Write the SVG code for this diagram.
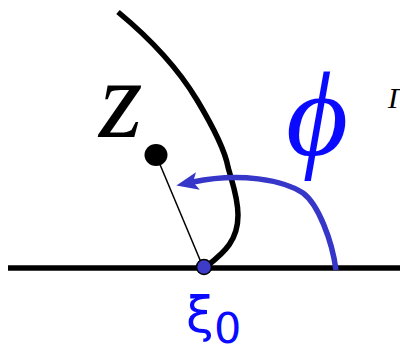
<svg xmlns="http://www.w3.org/2000/svg" width="400" height="347" viewBox="0 0 400 347">
<style>
.blk{fill:none;stroke:#000;stroke-width:5.5;stroke-linecap:butt}
.thin{fill:none;stroke:#000;stroke-width:1.5}
.arr{fill:none;stroke:#3636c8;stroke-width:5.5}
.ser{font-family:"Liberation Serif","DejaVu Serif",serif;font-style:italic}
.blue{fill:#0a0aff}
</style>
<defs>
<marker id="ah" markerUnits="userSpaceOnUse" markerWidth="30" markerHeight="30" viewBox="-2 -12 30 24" refX="5" refY="0" orient="auto">
<path d="M0,-9 L22,0 L0,9 L5,0 Z" fill="#3636c8"/>
</marker>
</defs>
<g id="axis">
<line class="blk" x1="8" y1="268" x2="400" y2="268"/>
</g>
<g id="boundary">
<path class="blk" d="M118,12 Q170,55 197,100 Q224,145 228,167 C232,182 238,197 238,215 C238,240 225,252 207,266"/>
</g>
<g id="connectors">
<line class="thin" x1="156" y1="155" x2="203" y2="267"/>
<path class="arr" d="M336,270 C332,240 318,204 303,193 C283,180 240,172 193,182" marker-end="url(#ah)"/>
</g>
<g id="point-z">
<ellipse cx="156" cy="155" rx="11.5" ry="11" fill="#000"/>
<text class="ser" x="99" y="137" font-size="112" fill="#000">z</text>
</g>
<g id="point-xi0">
<circle cx="204" cy="267" r="7.5" fill="#3c3cc8" stroke="#000" stroke-width="1.5"/>
<text x="186" y="332" font-family="DejaVu Sans,sans-serif" font-size="50" class="blue">ξ<tspan font-size="43" dy="11">0</tspan></text>
</g>
<g id="label-phi">
<text class="ser blue" x="286" y="155" font-size="120">ϕ</text>
</g>
<g id="label-gamma">
<text class="ser" x="388" y="108" font-size="30" fill="#000">Γ</text>
</g>
</svg>
